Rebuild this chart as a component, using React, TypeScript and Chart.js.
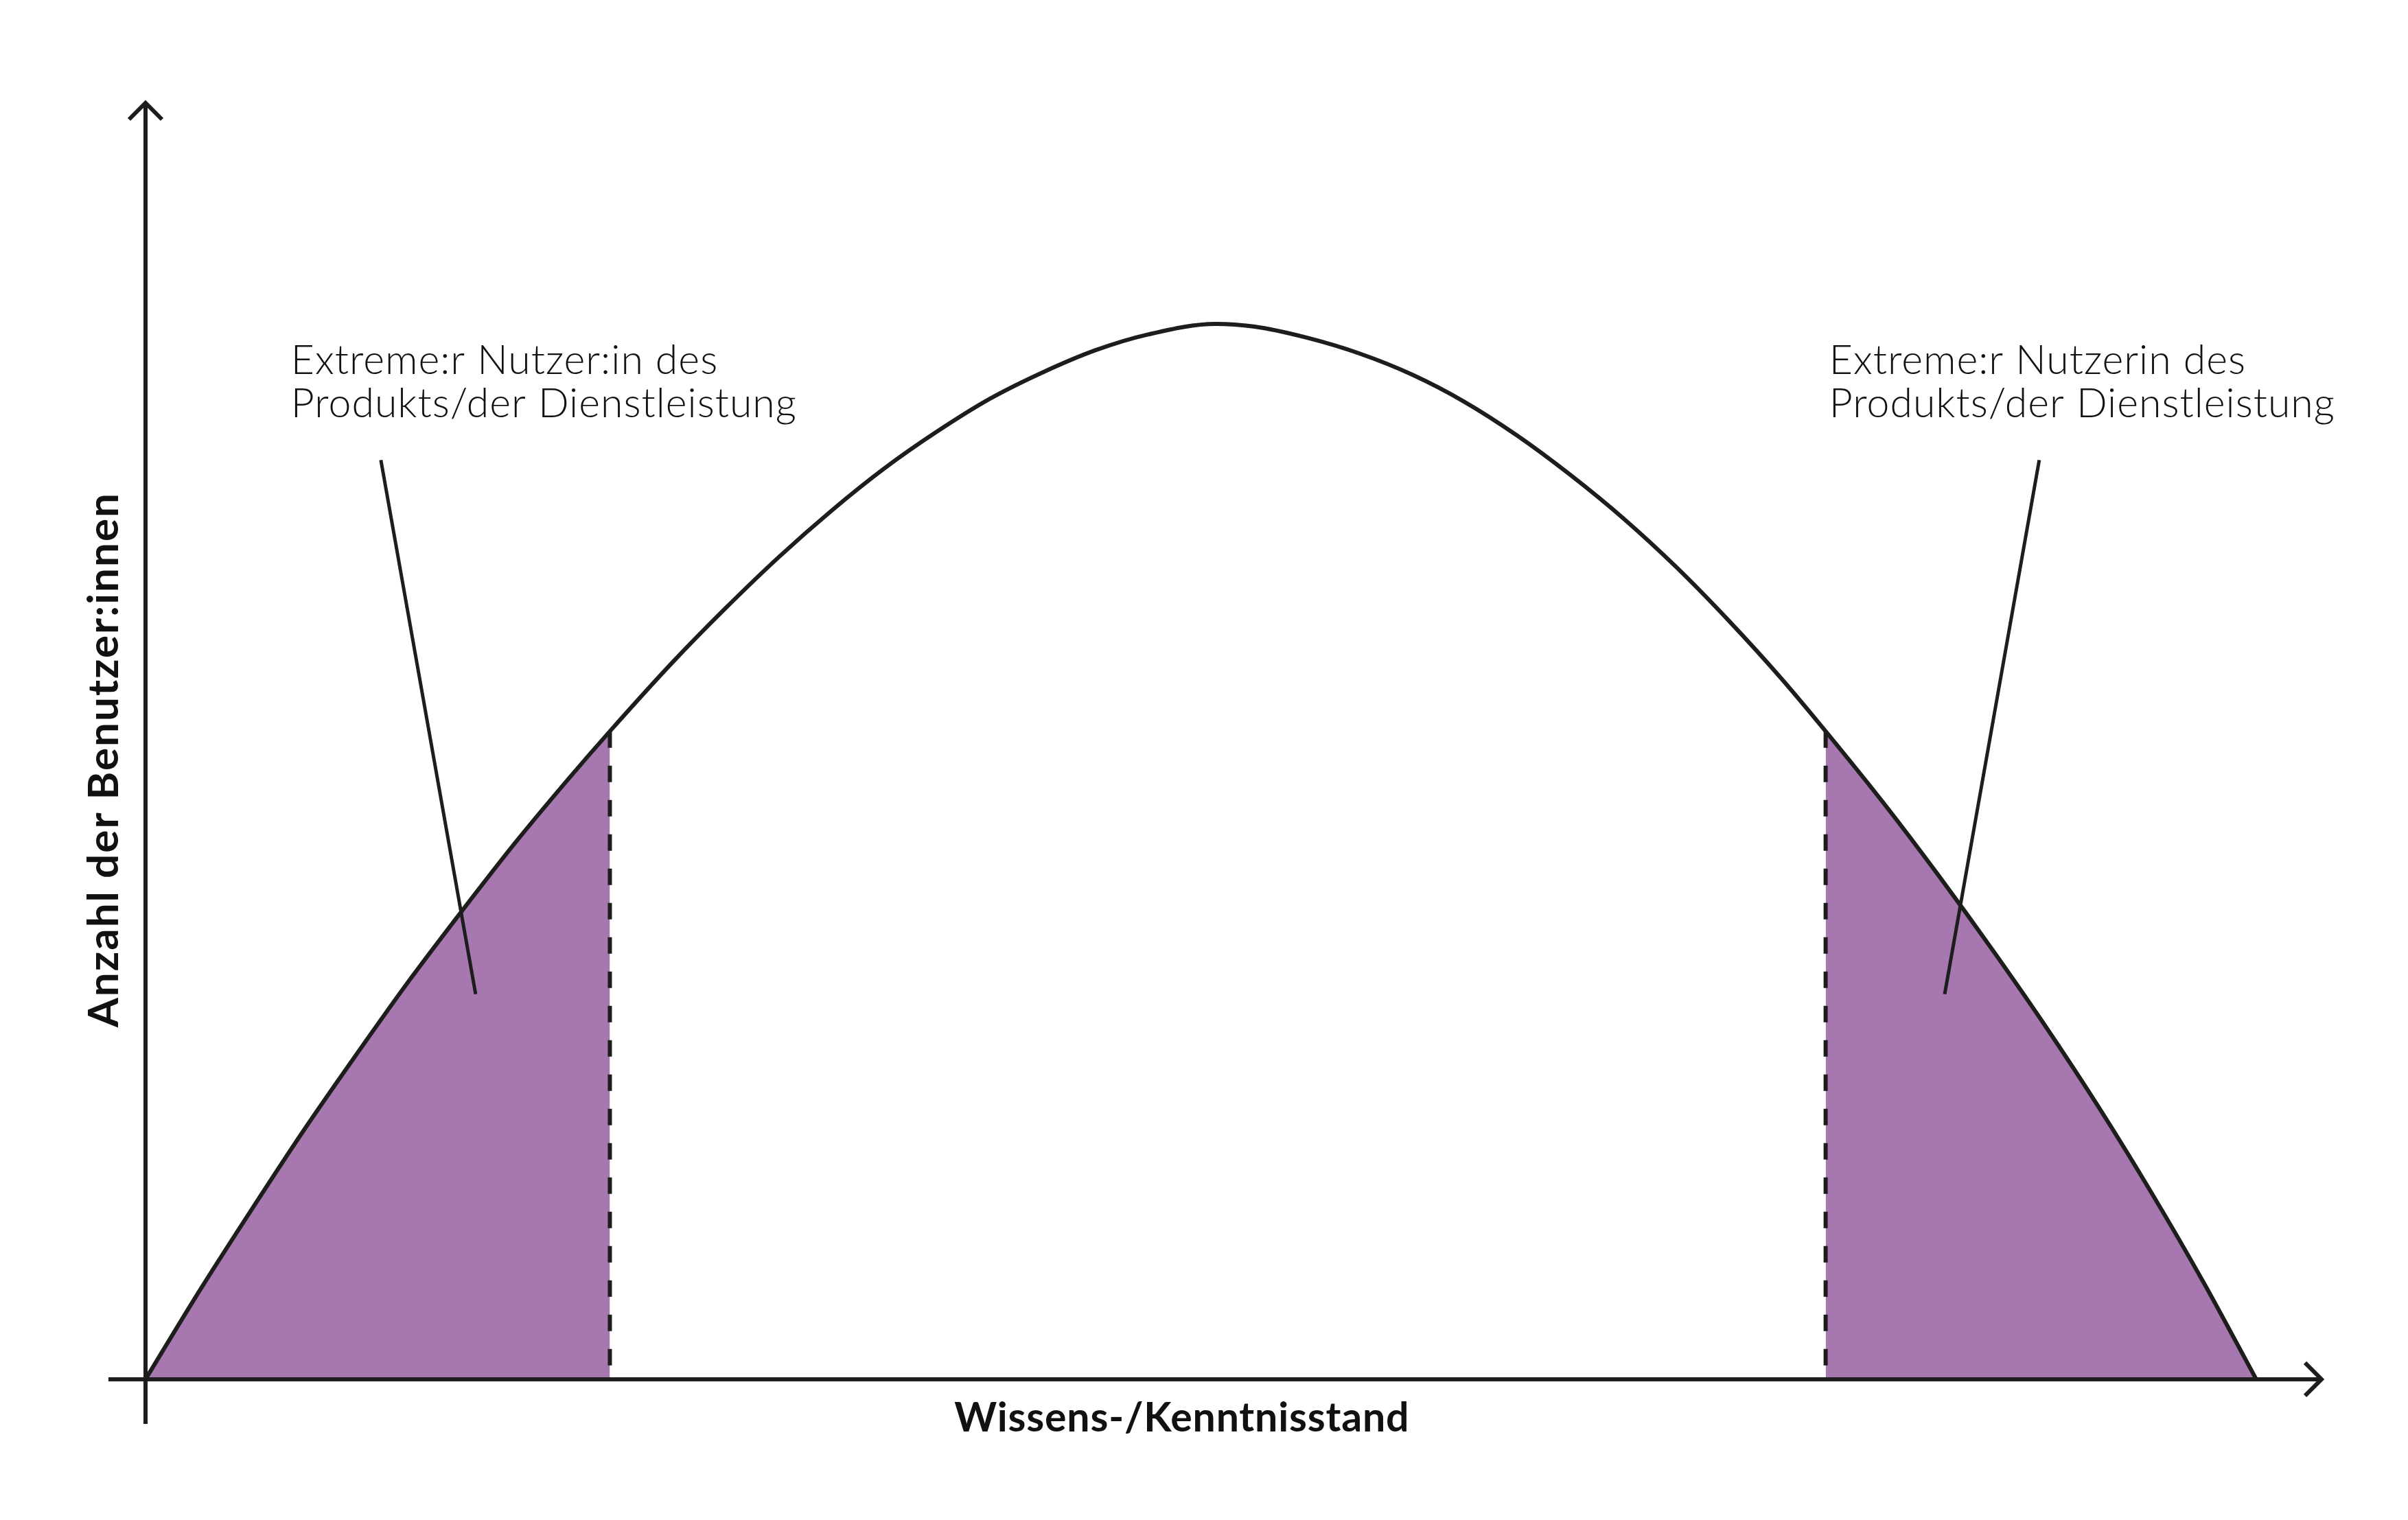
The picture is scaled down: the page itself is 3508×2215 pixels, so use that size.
import React, { useEffect, useRef } from "react";
import { Chart, registerables } from "chart.js";

Chart.register(...registerables);

// Curve: knowledge level (x) vs. number of users (y), peak = 100
const curveX = [0, 2.5, 5, 7.5, 10, 12.5, 15, 17.5, 20, 22, 25, 27.5, 30, 32.5, 35, 37.5, 40, 42.5, 45, 47.5, 50.7, 52.5, 55, 57.5, 60, 62.5, 65, 67.5, 70, 72.5, 75, 77.5, 79.6, 82.5, 85, 87.5, 90, 92.5, 95, 97.5, 100];
const curveY = [0, 8.2, 16.0, 23.6, 30.8, 37.8, 44.4, 50.8, 56.8, 61.4, 68.0, 73.1, 77.9, 82.3, 86.3, 89.8, 92.9, 95.4, 97.5, 99.0, 100, 99.75, 98.7, 97.2, 95.2, 92.6, 89.4, 85.7, 81.6, 77.0, 71.9, 66.4, 61.4, 54.2, 47.6, 40.7, 33.5, 25.9, 17.8, 9.2, 0];

// Cut-offs of the shaded "extreme user" zones
const leftCut = 22;
const rightCut = 79.6;

// Leader lines from labels into shaded zones
const leaderLeftX = [11.15, 15.64];
const leaderLeftY = [87.1, 36.5];
const leaderRightX = [89.72, 85.24];
const leaderRightY = [87.1, 36.5];

// Texts
const labelLeft = ["Extreme:r Nutzer:in des", "Produkts/der Dienstleistung"];
const labelRight = ["Extreme:r Nutzerin des", "Produkts/der Dienstleistung"];
const xTitle = "Wissens-/Kenntnisstand";
const yTitle = "Anzahl der Benutzer:innen";

const INK = "#1d1d1b";
const PURPLE = "#a778b0";

export default function App() {
  const ref = useRef<HTMLCanvasElement | null>(null);

  useEffect(() => {
    let chart: Chart | null = null;
    let cancelled = false;

    const build = () => {
      if (cancelled || !ref.current) return;
      const pts = curveX.map((x, i) => ({ x, y: curveY[i] }));
      const leftPts = pts.filter((p) => p.x <= leftCut + 1e-9);
      const rightPts = pts.filter((p) => p.x >= rightCut - 1e-9);
      const yAt = (xv: number) => curveY[curveX.indexOf(xv)];

      const axesPlugin = {
        id: "axesAndText",
        afterDatasetsDraw(c: any) {
          const ctx = c.ctx as CanvasRenderingContext2D;
          const xs = c.scales.x;
          const ys = c.scales.y;
          const ox = xs.getPixelForValue(0);
          const oy = ys.getPixelForValue(0);
          const xL = xs.getPixelForValue(xs.min);
          const xR = xs.getPixelForValue(xs.max);
          const yB = ys.getPixelForValue(ys.min);
          const yT = ys.getPixelForValue(ys.max);
          ctx.save();
          ctx.strokeStyle = INK;
          ctx.lineWidth = 6;
          ctx.lineCap = "butt";
          ctx.lineJoin = "miter";
          // y axis
          ctx.beginPath();
          ctx.moveTo(ox, yB);
          ctx.lineTo(ox, yT + 2);
          ctx.stroke();
          // x axis
          ctx.beginPath();
          ctx.moveTo(xL, oy);
          ctx.lineTo(xR - 2, oy);
          ctx.stroke();
          // arrow heads
          ctx.beginPath();
          ctx.moveTo(ox - 24, yT + 27);
          ctx.lineTo(ox, yT + 3);
          ctx.lineTo(ox + 24, yT + 27);
          ctx.stroke();
          ctx.beginPath();
          ctx.moveTo(xR - 27, oy - 24);
          ctx.lineTo(xR - 3, oy);
          ctx.lineTo(xR - 27, oy + 24);
          ctx.stroke();

          // annotation labels
          ctx.fillStyle = "#111111";
          ctx.textBaseline = "alphabetic";
          ctx.textAlign = "left";
          ctx.font = "300 59px Lato";
          (ctx as any).letterSpacing = "1px";
          const baseY = ys.getPixelForValue(95.25);
          const lx = xs.getPixelForValue(6.89);
          const rx = xs.getPixelForValue(79.77);
          labelLeft.forEach((t, i) => ctx.fillText(t, lx, baseY + i * 63));
          labelRight.forEach((t, i) => ctx.fillText(t, rx, baseY + i * 63));

          // axis titles
          ctx.font = "bold 59px Lato";
          (ctx as any).letterSpacing = "0.8px";
          ctx.textAlign = "center";
          ctx.fillText(xTitle, xs.getPixelForValue(49.1), oy + 76);
          ctx.save();
          ctx.font = "bold 62px Lato";
          (ctx as any).letterSpacing = "2px";
          ctx.translate(ox - 40, ys.getPixelForValue(58.7));
          ctx.rotate(-Math.PI / 2);
          ctx.fillText(yTitle, 0, 0);
          ctx.restore();
          (ctx as any).letterSpacing = "0px";
          ctx.restore();
        },
      };

      chart = new Chart(ref.current, {
        type: "line",
        data: {
          datasets: [
            {
              label: "curve",
              data: pts,
              borderColor: INK,
              borderWidth: 6,
              pointRadius: 0,
              fill: false,
              cubicInterpolationMode: "monotone",
              order: 0,
            },
            {
              label: "leaderLeft",
              data: leaderLeftX.map((x, i) => ({ x, y: leaderLeftY[i] })),
              borderColor: INK,
              borderWidth: 5,
              pointRadius: 0,
              fill: false,
              order: 0,
            },
            {
              label: "leaderRight",
              data: leaderRightX.map((x, i) => ({ x, y: leaderRightY[i] })),
              borderColor: INK,
              borderWidth: 5,
              pointRadius: 0,
              fill: false,
              order: 0,
            },
            {
              label: "cutLeft",
              data: [
                { x: leftCut, y: yAt(leftCut) },
                { x: leftCut, y: 0 },
              ],
              borderColor: INK,
              borderWidth: 6,
              borderDash: [24, 26],
              pointRadius: 0,
              fill: false,
              order: 1,
            },
            {
              label: "cutRight",
              data: [
                { x: rightCut, y: yAt(rightCut) },
                { x: rightCut, y: 0 },
              ],
              borderColor: INK,
              borderWidth: 6,
              borderDash: [24, 26],
              pointRadius: 0,
              fill: false,
              order: 1,
            },
            {
              label: "fillLeft",
              data: leftPts,
              borderColor: "rgba(0,0,0,0)",
              borderWidth: 0,
              backgroundColor: PURPLE,
              pointRadius: 0,
              fill: "origin",
              cubicInterpolationMode: "monotone",
              order: 2,
            },
            {
              label: "fillRight",
              data: rightPts,
              borderColor: "rgba(0,0,0,0)",
              borderWidth: 0,
              backgroundColor: PURPLE,
              pointRadius: 0,
              fill: "origin",
              cubicInterpolationMode: "monotone",
              order: 2,
            },
          ],
        },
        options: {
          responsive: false,
          animation: false,
          devicePixelRatio: 1,
          layout: { padding: { left: 158, right: 123, top: 147, bottom: 140 } },
          plugins: {
            legend: { display: false },
            tooltip: { enabled: false },
            title: { display: false },
          },
          events: [],
          scales: {
            x: { type: "linear", min: -1.756, max: 103.19, display: false },
            y: { type: "linear", min: -4.23, max: 121.13, display: false },
          },
        },
        plugins: [axesPlugin],
      });
    };

    const fontsReady = (document as any).fonts
      ? Promise.all([
          (document as any).fonts.load("300 59px Lato"),
          (document as any).fonts.load("bold 59px Lato"),
        ]).catch(() => null)
      : Promise.resolve(null);
    fontsReady.then(build);

    return () => {
      cancelled = true;
      if (chart) chart.destroy();
    };
  }, []);

  return (
    <div style={{ position: "absolute", left: 0, top: 0, width: 3508, height: 2215, background: "#ffffff" }}>
      <canvas ref={ref} width={3508} height={2215} style={{ display: "block", width: 3508, height: 2215 }} />
    </div>
  );
}
